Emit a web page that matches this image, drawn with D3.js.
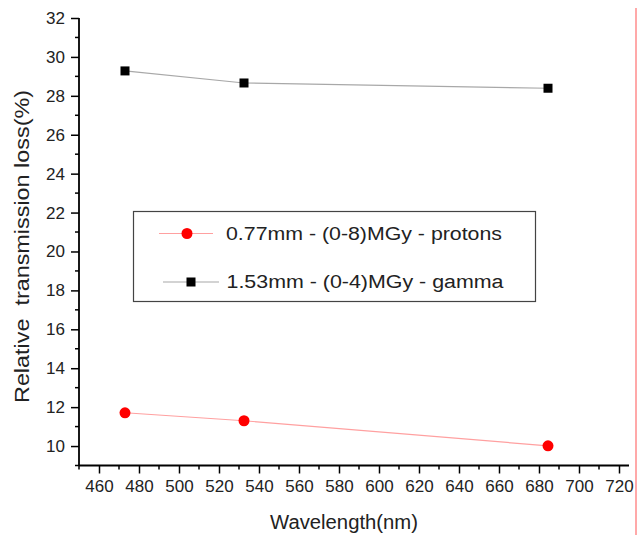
<!DOCTYPE html>
<html><head><meta charset="utf-8">
<script src="https://cdn.jsdelivr.net/npm/d3@7"></script>
<style>body{margin:0;background:#fff}svg{display:block}text{font-family:Arial,"Liberation Sans",sans-serif;fill:#222}</style>
</head><body>
<script>
const wavelengths = [473, 532.5, 684.5];
const protons = [11.71, 11.30, 10.01];
const gamma = [29.28, 28.66, 28.39];
const seriesNames = ["0.77mm - (0-8)MGy - protons", "1.53mm - (0-4)MGy - gamma"];
const xTicks = [460,480,500,520,540,560,580,600,620,640,660,680,700,720];
const yTicks = [10,12,14,16,18,20,22,24,26,28,30,32];

const W = 644, H = 535;
const svg = d3.select("body").append("svg").attr("width", W).attr("height", H);
const x = d3.scaleLinear().domain([450, 725]).range([79, 629]);
const y = d3.scaleLinear().domain([9, 32]).range([465.5, 18]);

svg.append("line").attr("x1",636).attr("x2",636).attr("y1",8).attr("y2",H).attr("stroke","#ff8c8c").attr("stroke-width",1.5);

const xMinor = d3.range(450, 726, 10).filter(v => v % 20 !== 0);
const yMinor = d3.range(9, 32, 1).filter(v => v % 2 !== 0);

const xAxis = svg.append("g").attr("transform", `translate(0,${y(9)})`);
xAxis.call(d3.axisBottom(x).tickValues(xTicks).tickSize(8).tickPadding(6).tickFormat(d3.format("d")));
xAxis.selectAll(".tick text").attr("font-size", 17).attr("fill","#222");
xAxis.selectAll(".tick line").attr("stroke","#000").attr("stroke-width",1.5);
xAxis.select(".domain").attr("stroke","#000").attr("stroke-width",1.8).attr("d", `M${x(450)},0H${x(725)}`);
xAxis.selectAll(".minor").data(xMinor).enter().append("line").attr("class","minor")
  .attr("x1", d=>x(d)).attr("x2", d=>x(d)).attr("y1",0).attr("y2",4).attr("stroke","#000").attr("stroke-width",1.5);

const yAxis = svg.append("g").attr("transform", `translate(${x(450)},0)`);
yAxis.call(d3.axisLeft(y).tickValues(yTicks).tickSize(8).tickPadding(6).tickFormat(d3.format("d")));
yAxis.selectAll(".tick text").attr("font-size", 17).attr("fill","#222");
yAxis.selectAll(".tick line").attr("stroke","#000").attr("stroke-width",1.5);
yAxis.select(".domain").attr("stroke","#000").attr("stroke-width",1.8).attr("d", `M0,${y(9)}V${y(32)}`);
yAxis.selectAll(".minor").data(yMinor).enter().append("line").attr("class","minor")
  .attr("y1", d=>y(d)).attr("y2", d=>y(d)).attr("x1",0).attr("x2",-4).attr("stroke","#000").attr("stroke-width",1.5);

svg.append("text").attr("x", 344).attr("y", 529).attr("text-anchor","middle").attr("font-size", 20)
  .attr("textLength",148).attr("lengthAdjust","spacingAndGlyphs").text("Wavelength(nm)");
svg.append("text").attr("transform","translate(29,246.5) rotate(-90)").attr("text-anchor","middle").attr("font-size", 20)
  .attr("textLength",313).attr("lengthAdjust","spacingAndGlyphs")
  .style("white-space","pre").text("Relative  transmission loss(%)");

const line = d3.line().x(d=>x(d[0])).y(d=>y(d[1]));
const pData = wavelengths.map((w,i)=>[w, protons[i]]);
const gData = wavelengths.map((w,i)=>[w, gamma[i]]);

svg.append("path").datum(gData).attr("d", line).attr("fill","none").attr("stroke","#a8a8a8").attr("stroke-width",1.2);
svg.append("path").datum(pData).attr("d", line).attr("fill","none").attr("stroke","#ffa0a0").attr("stroke-width",1.2);

svg.selectAll(".sq").data(gData).enter().append("rect")
  .attr("x", d=>x(d[0])-4.5).attr("y", d=>y(d[1])-4.5).attr("width",9).attr("height",9).attr("fill","#000");
svg.selectAll(".ci").data(pData).enter().append("circle")
  .attr("cx", d=>x(d[0])).attr("cy", d=>y(d[1])).attr("r",5.5).attr("fill","#ff0000");

const lg = svg.append("g");
lg.append("rect").attr("x",133.5).attr("y",211.5).attr("width",402).attr("height",90).attr("fill","#fff").attr("stroke","#444").attr("stroke-width",1.2);
lg.append("line").attr("x1",159).attr("x2",213).attr("y1",233.5).attr("y2",233.5).attr("stroke","#ffa0a0").attr("stroke-width",1.2);
lg.append("circle").attr("cx",187).attr("cy",233.5).attr("r",5.5).attr("fill","#ff0000");
lg.append("text").attr("x",226).attr("y",239.5).attr("font-size",18)
  .attr("textLength",276).attr("lengthAdjust","spacingAndGlyphs").text(seriesNames[0]);
lg.append("line").attr("x1",163).attr("x2",219).attr("y1",282).attr("y2",282).attr("stroke","#a8a8a8").attr("stroke-width",1.2);
lg.append("rect").attr("x",186.5).attr("y",277.5).attr("width",9).attr("height",9).attr("fill","#000");
lg.append("text").attr("x",226.5).attr("y",288).attr("font-size",18)
  .attr("textLength",277).attr("lengthAdjust","spacingAndGlyphs").text(seriesNames[1]);
</script>
</body></html>
